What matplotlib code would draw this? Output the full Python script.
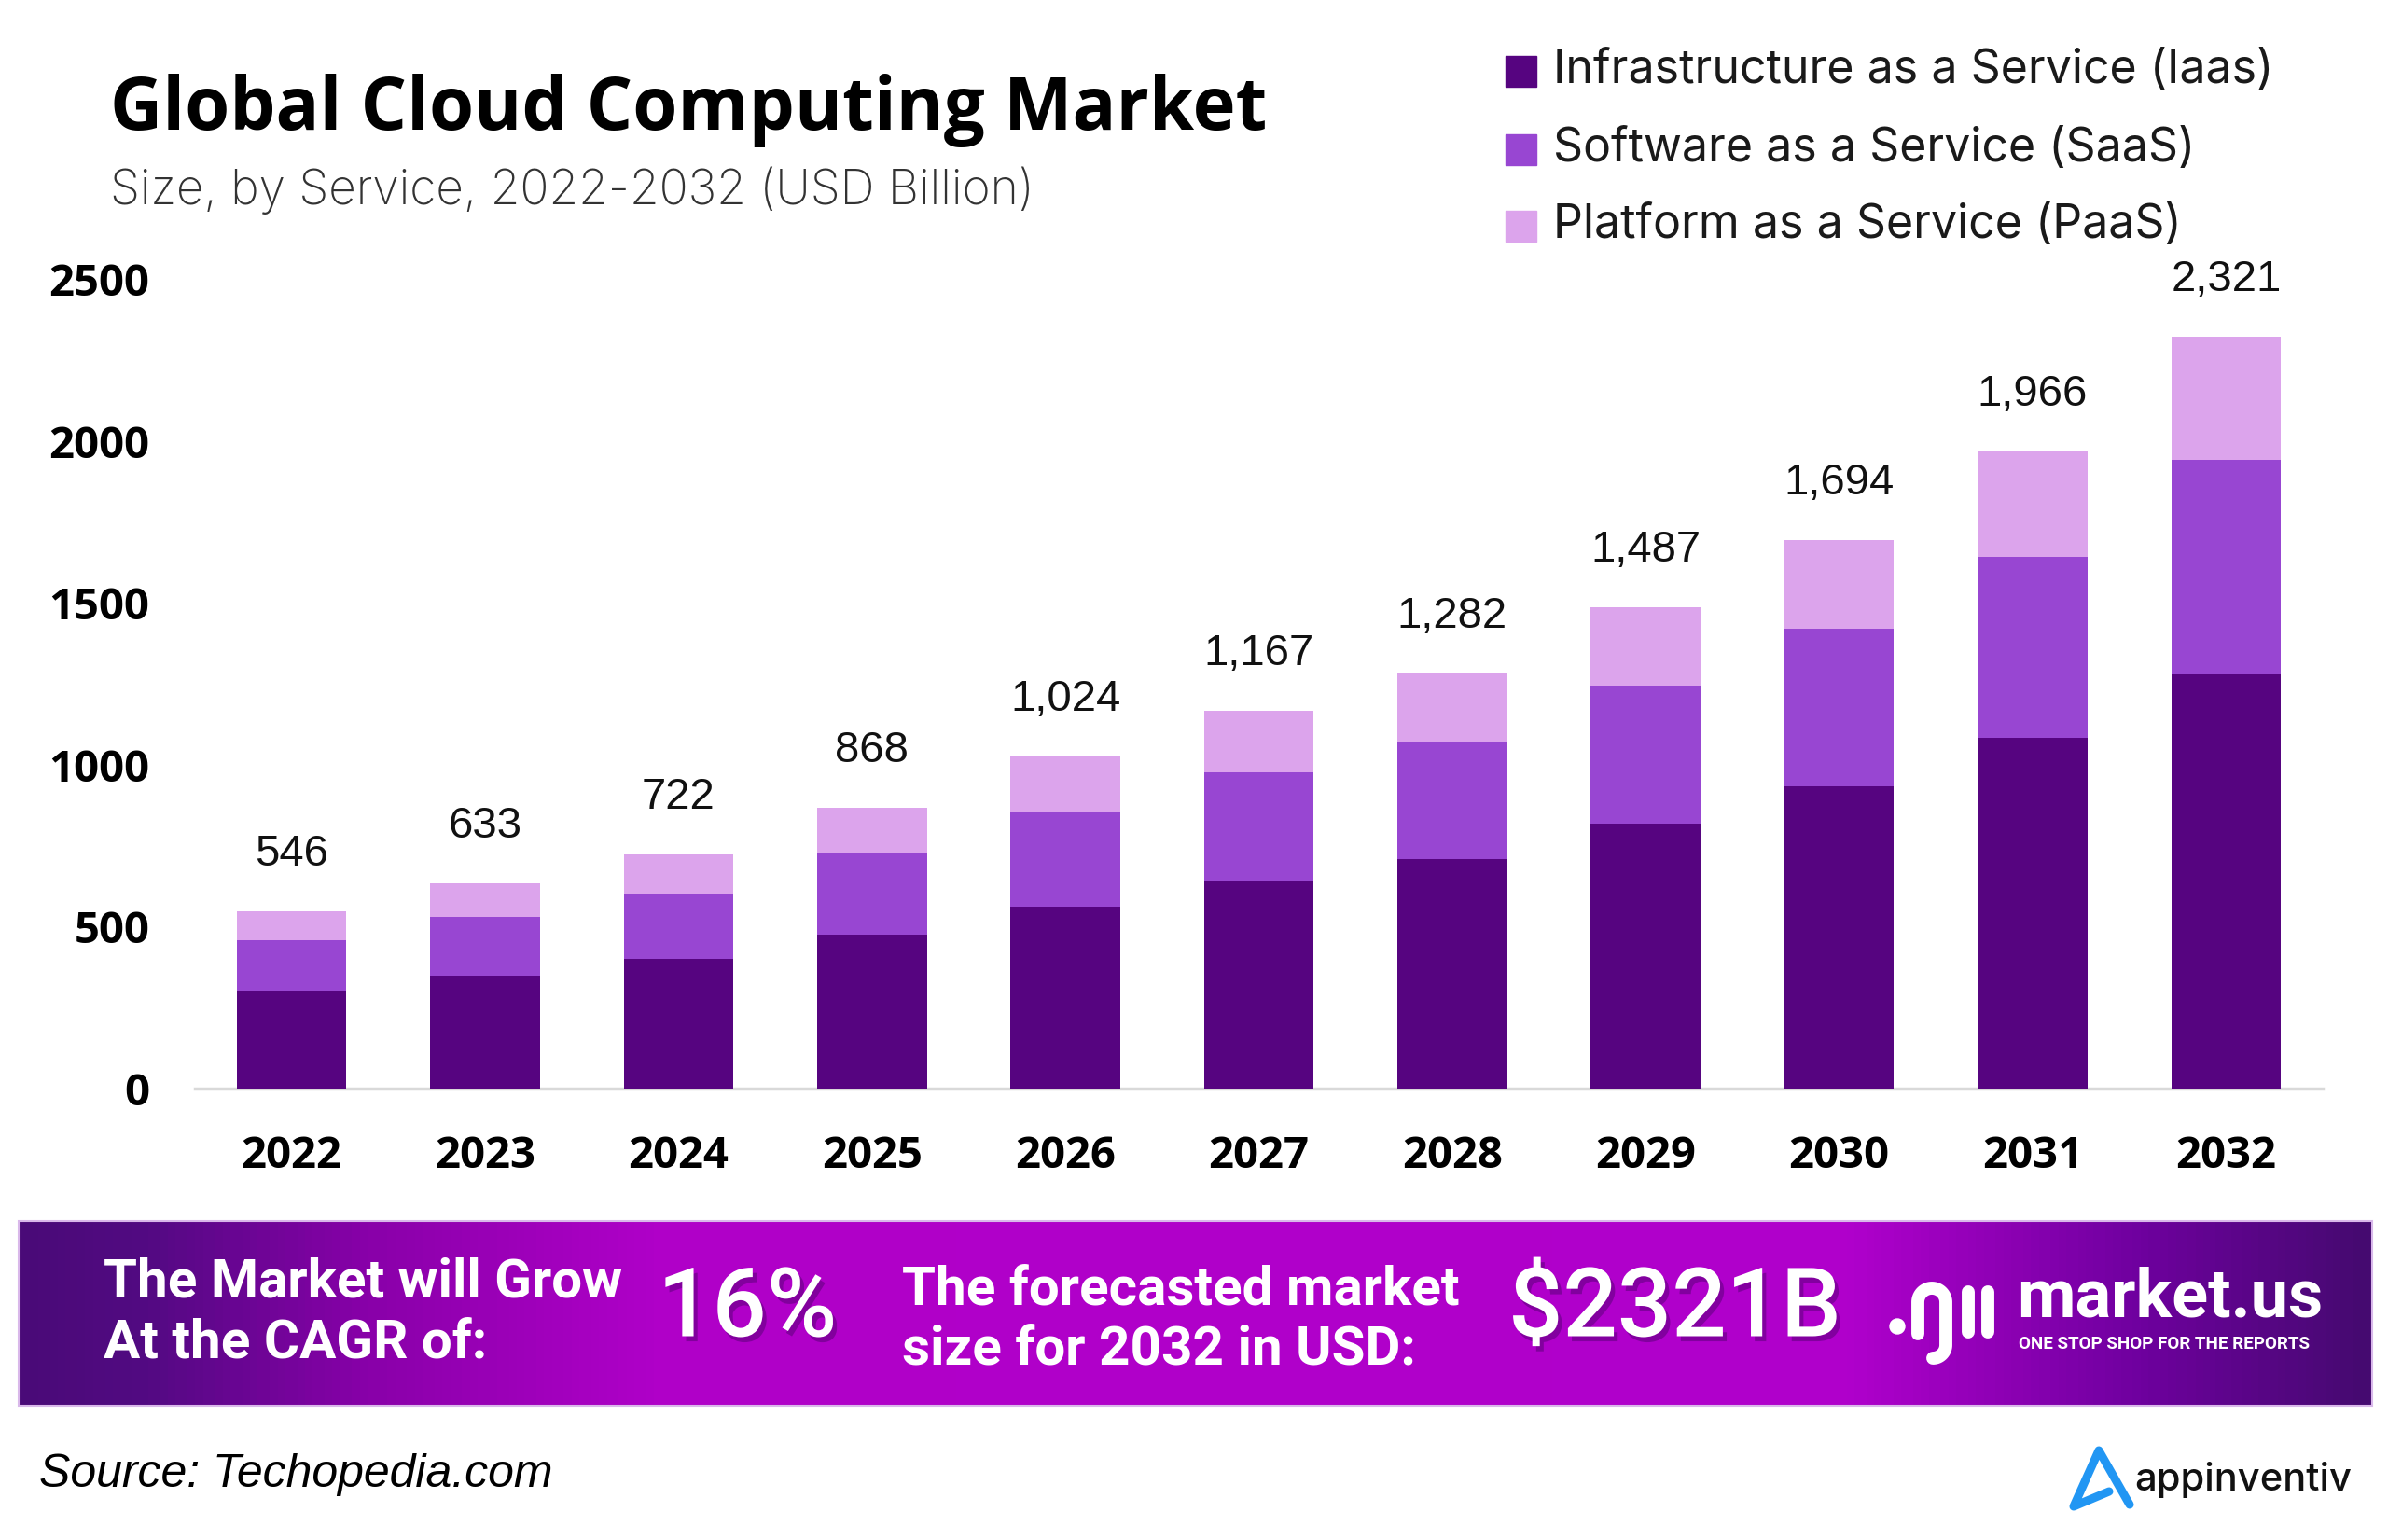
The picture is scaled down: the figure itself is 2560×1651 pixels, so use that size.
import numpy as np
import matplotlib.pyplot as plt
import matplotlib.patheffects as pe
from matplotlib.colors import LinearSegmentedColormap
from matplotlib.patches import Rectangle, Circle

W, H = 2560, 1651

years = ['2022', '2023', '2024', '2025', '2026', '2027', '2028', '2029', '2030', '2031', '2032']
iaas = [302, 349, 399, 476, 561, 642, 708, 817, 933, 1083, 1279]
saas = [156, 182, 204, 251, 293, 333, 363, 426, 487, 560, 662]
paas = [88, 102, 119, 141, 170, 192, 211, 244, 274, 323, 380]
totals = [546, 633, 722, 868, 1024, 1167, 1282, 1487, 1694, 1966, 2321]
series_names = ['Infrastructure as a Service (Iaas)', 'Software as a Service (SaaS)',
                'Platform as a Service (PaaS)']
colors = ['#560480', '#9846d2', '#dca4ec']

fig = plt.figure(figsize=(W / 100, H / 100), dpi=100)

# overlay in pixel coords for title, banner, logos
ov = fig.add_axes([0, 0, 1, 1], zorder=0)
ov.axis('off')

# main chart
ax = fig.add_axes([209 / W, 1 - 1167 / H, (2490 - 209) / W, (1167 - 299) / H], zorder=1)
ax.patch.set_alpha(0)
x = np.arange(len(years))
bottom = np.zeros(len(years))
for vals, c in zip([iaas, saas, paas], colors):
    ax.bar(x, vals, width=0.567, bottom=bottom, color=c, zorder=3)
    bottom = bottom + np.array(vals)

for xi, t in zip(x, totals):
    ax.annotate(f'{t:,}', (xi, t), xytext=(0, 44), textcoords='offset points',
                ha='center', va='center', fontsize=34, family='Liberation Sans', color='#111111')

ax.set_xlim(-0.5, 10.5)
ax.set_ylim(0, 2500)
ax.set_yticks([0, 500, 1000, 1500, 2000, 2500])
ax.set_xticks(x)
ax.set_xticklabels(years)
for lab in ax.get_xticklabels() + ax.get_yticklabels():
    lab.set_fontfamily('Open Sans')
    lab.set_fontweight('bold')
    lab.set_fontsize(34)
    lab.set_color('black')
ax.tick_params(length=0, pad=35)
for s in ['top', 'right', 'left']:
    ax.spines[s].set_visible(False)
ax.spines['bottom'].set_color('#d9d9d9')
ax.spines['bottom'].set_linewidth(2.5)

# title and subtitle
ov.text(118, 119, 'Global Cloud Computing Market', fontsize=56, fontweight='bold',
        family='Open Sans', va='center', ha='left', color='black')
ov.text(118, 204, 'Size, by Service, 2022-2032 (USD Billion)', fontsize=37, fontweight='light',
        family='Inter', va='center', ha='left', color='#333333')

# legend
for yy, name, c in zip([76, 160, 242], series_names, colors):
    ov.add_patch(Rectangle((1614, yy - 16), 33, 33, color=c))
    ov.text(1665, yy, name, fontsize=36, family='Inter', va='center', ha='left', color='#1a1a1a')

# banner
cmap = LinearSegmentedColormap.from_list('banner', [
    (0.0, '#4a0a78'), (0.05, '#520a82'), (0.15, '#8a00aa'), (0.27, '#b000c8'),
    (0.78, '#b000cc'), (0.90, '#7000a0'), (1.0, '#450a70')])
ov.imshow(np.linspace(0, 1, 600)[None, :], aspect='auto', cmap=cmap,
          extent=[20, 2543, 1507, 1309], zorder=1)
ov.add_patch(Rectangle((20, 1309), 2523, 198, fill=False, edgecolor='#d9b8ea', lw=1.5, zorder=2))
ov.set_xlim(0, W)
ov.set_ylim(H, 0)

shadow = [pe.SimplePatchShadow(offset=(3, -4), shadow_rgbFace='#4a006a', alpha=0.45), pe.Normal()]
ov.text(111, 1375, 'The Market will Grow', fontsize=42, fontweight='bold', family='Roboto',
        color='white', va='center', zorder=3)
ov.text(111, 1440, 'At the CAGR of:', fontsize=42, fontweight='bold', family='Roboto',
        color='white', va='center', zorder=3)
ov.text(705, 1404, '16%', fontsize=74, fontweight='medium', family='Roboto',
        color='white', va='center', zorder=3, path_effects=shadow)
ov.text(967, 1383, 'The forecasted market', fontsize=42, fontweight='bold', family='Roboto',
        color='white', va='center', zorder=3)
ov.text(967, 1447, 'size for 2032 in USD:', fontsize=42, fontweight='bold', family='Roboto',
        color='white', va='center', zorder=3)
ov.text(1617, 1404, '$2321B', fontsize=74, fontweight='medium', family='Roboto',
        color='white', va='center', zorder=3, path_effects=shadow)

# market.us logo
lw_logo = 10
ov.add_patch(Circle((2034, 1422), 8, color='white', zorder=3))
t1 = np.linspace(np.pi, 0, 40)
t2 = np.linspace(0, np.pi / 2, 20)
arch_x = np.concatenate([[2056, 2056], 2071 + 15 * np.cos(t1), [2086, 2086], 2072 + 14 * np.cos(t2)])
arch_y = np.concatenate([[1430, 1396], 1396 - 15 * np.sin(t1), [1396, 1442], 1442 + 14 * np.sin(t2)])
ov.plot(arch_x, arch_y, color='white', lw=lw_logo, solid_capstyle='round', solid_joinstyle='round', zorder=3)
for bx in [2110, 2131]:
    ov.plot([bx, bx], [1385, 1428], color='white', lw=lw_logo, solid_capstyle='round', zorder=3)
ov.text(2162, 1412, 'market.us', fontsize=52, fontweight='bold', family='Roboto',
        color='white', va='baseline', ha='left', zorder=3)
ov.text(2164, 1441, 'ONE STOP SHOP FOR THE REPORTS', fontsize=13.5, fontweight='bold', family='Roboto',
        color='white', va='center', ha='left', zorder=3)

# footer
ov.text(42, 1581, 'Source: Techopedia.com', fontsize=36, style='italic', family='Liberation Sans',
        color='black', va='center', ha='left')
ov.plot([2283, 2250, 2223, 2261], [1613, 1555, 1615, 1599], color='#2196f3', lw=6.5,
        solid_capstyle='round', solid_joinstyle='round')
ov.text(2288, 1598, 'appinventiv', fontsize=30, fontweight='medium', family='Inter',
        color='#111111', va='baseline', ha='left')

fig.savefig('out.png', dpi=100, facecolor='white')
